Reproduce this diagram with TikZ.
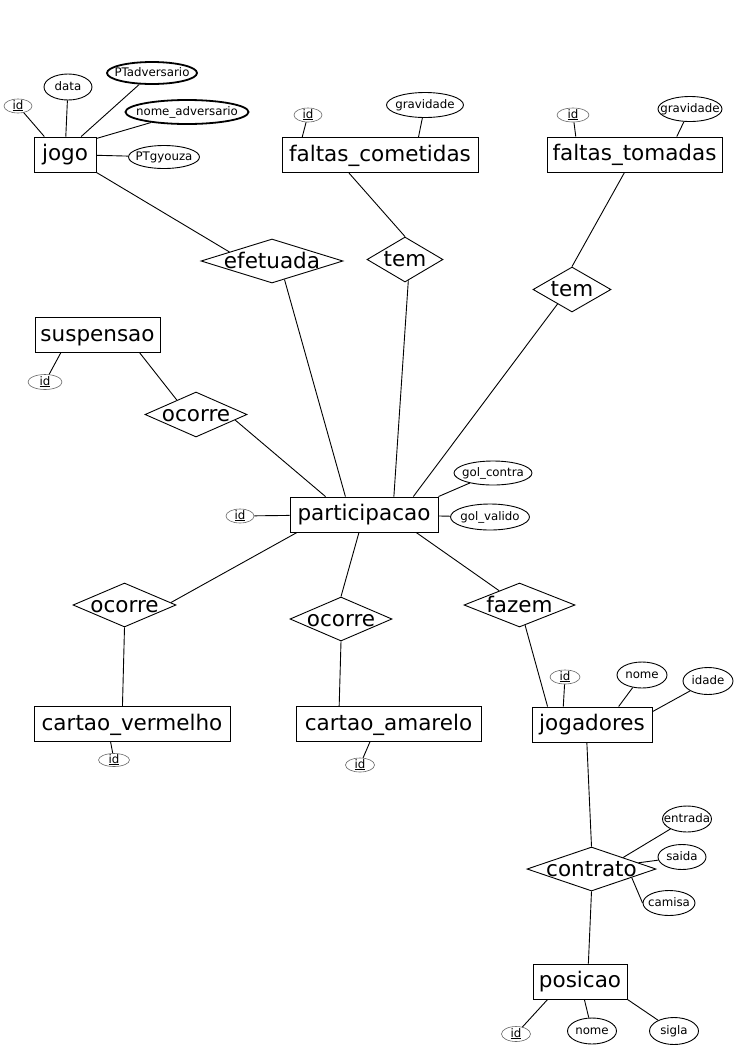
\documentclass[tikz,border=0pt]{standalone}
\usepackage{fontspec}
\setmainfont{DejaVu Sans}
\usetikzlibrary{shapes.geometric}
\begin{document}
\begin{tikzpicture}[x=1pt,y=-1pt]

    \tikzset{
      entity/.style={
        draw,
        line width=0.9pt,
        inner sep=0pt,
        minimum height=35pt,
        text height=15.7pt,
        text depth=3.7pt,
        font=\fontsize{21.5}{24}\selectfont,
      },
      bigtext/.style={
        inner sep=0pt,
        text height=17pt,
        text depth=3pt,
        font=\fontsize{21.5}{24}\selectfont,
      },
      relation/.style={
        draw,
        diamond,
        line width=0.9pt,
        inner sep=0pt,
        minimum height=44pt,
        label={[bigtext]center:#1},
      },
      smalltext/.style={
        inner sep=0pt,
        text height=8.5pt,
        text depth=2.5pt,
        font=\fontsize{11.8}{14}\selectfont,
      },
      attr/.style={
        draw,
        ellipse,
        line width=0.9pt,
        inner sep=0pt,
        minimum height=25pt,
        label={[smalltext]center:#1},
      },
      idattr/.style={
        attr=\underline{id},
        line width=0.6pt,
        draw=black!60,
        minimum height=14pt,
      },
      conn/.style={line width=0.9pt},
    }
    \useasboundingbox (0,0) rectangle (745,1053);
    \fill[white] (0,0) rectangle (745,1053);

    % entidades
    \node[entity, minimum width=62pt] (jogo) at (65,154.5) {jogo};
    \node[entity, minimum width=196pt] (fcom) at (380,155) {faltas\_cometidas};
    \node[entity, minimum width=175pt] (ftom) at (634.5,154.5) {faltas\_tomadas};
    \node[entity, minimum width=125pt] (suspensao) at (97.5,335) {suspensao};
    \node[entity, minimum width=148pt] (participacao) at (364,514.5) {participacao};
    \node[entity, minimum width=196pt] (cvermelho) at (132,724) {cartao\_vermelho};
    \node[entity, minimum width=185pt] (camarelo) at (388.5,724) {cartao\_amarelo};
    \node[entity, minimum width=120pt] (jogadores) at (592,724.5) {jogadores};
    \node[entity, minimum width=94pt] (posicao) at (580,981.5) {posicao};

    % relacionamentos
    \node[relation=efetuada, minimum width=142pt] (efetuada) at (272,261) {};
    \node[relation=tem, minimum width=76pt, minimum height=45pt] (temfc) at (405,259.5) {};
    \node[relation=tem, minimum width=78pt, minimum height=45pt] (temft) at (572,289.5) {};
    \node[relation=ocorre, minimum width=102pt, minimum height=45pt] (ocorresusp) at (196,414.5) {};
    \node[relation=ocorre, minimum width=103pt] (ocorrevm) at (124.5,605) {};
    \node[relation=ocorre, minimum width=102pt] (ocorream) at (341,619) {};
    \node[relation=fazem, minimum width=111pt] (fazem) at (519.5,605) {};
    \node[relation=contrato, minimum width=129pt] (contrato) at (591.5,869) {};

    % atributos
    \node[idattr, minimum width=28pt] (jogoid) at (18,106) {};
    \node[attr=data, minimum width=48pt, minimum height=26pt] (jogodata) at (68,87) {};
    \node[attr=PTadversario, line width=1.8pt, minimum width=90pt, minimum height=22pt] (ptadv) at (152,73) {};
    \node[attr=nome\_adversario, line width=1.8pt, minimum width=123pt, minimum height=24pt] (nomeadv) at (187,112) {};
    \node[attr=PTgyouza, minimum width=71pt, minimum height=23pt] (ptgyouza) at (164,157) {};
    \node[idattr, minimum width=28pt] (fcid) at (308,115) {};
    \node[attr=gravidade, minimum width=77pt] (fcgrav) at (425,105) {};
    \node[idattr, minimum width=32pt] (ftid) at (573,115) {};
    \node[attr=gravidade, minimum width=64pt] (ftgrav) at (690,109) {};
    \node[idattr, minimum width=34pt, minimum height=15pt] (suspid) at (45,382) {};
    \node[attr=gol\_contra, minimum width=78pt, minimum height=24pt] (golcontra) at (493,473) {};
    \node[attr=gol\_valido, minimum width=79pt, minimum height=26pt] (golvalido) at (490,517) {};
    \node[idattr, minimum width=28pt] (partid) at (240,516) {};
    \node[idattr, minimum width=31pt, minimum height=13pt] (vmid) at (114,760) {};
    \node[idattr, minimum width=29pt] (amid) at (360,765) {};
    \node[idattr, minimum width=30pt] (jogid) at (565,677) {};
    \node[attr=nome, minimum width=50pt, minimum height=26pt] (jognome) at (642,675) {};
    \node[attr=idade, minimum width=50pt, minimum height=27pt] (jogidade) at (708,681) {};
    \node[attr=entrada, minimum width=49pt, minimum height=26pt] (entrada) at (687,819) {};
    \node[attr=saida, minimum width=48pt] (saida) at (682,857) {};
    \node[attr=camisa, minimum width=52pt] (camisa) at (669,903) {};
    \node[idattr, minimum width=29pt, minimum height=15pt] (posid) at (516,1034) {};
    \node[attr=nome, minimum width=49pt, minimum height=26pt] (posnome) at (592,1031) {};
    \node[attr=sigla, minimum width=49pt, minimum height=27pt] (possigla) at (674,1031) {};

    % ligacoes
    \draw[conn] (jogoid) -- (jogo.139);
    \draw[conn] (jogodata) -- (jogo);
    \draw[conn] (ptadv) -- (jogo.48);
    \draw[conn] (nomeadv) -- (jogo.27);
    \draw[conn] (ptgyouza) -- (jogo);
    \draw[conn] (jogo.south east) -- (efetuada.168);
    \draw[conn] (fcid) -- (fcom.167);
    \draw[conn] (fcgrav) -- (fcom.25);
    \draw[conn] (fcom.-150) -- (temfc.north);
    \draw[conn] (ftid) -- (ftom.163);
    \draw[conn] (ftgrav) -- (ftom.23);
    \draw[conn] (ftom) -- (temft.north);
    \draw[conn] (suspid) -- (suspensao.-154);
    \draw[conn] (suspensao.-23) -- (ocorresusp.143);
    \draw[conn] (efetuada.-56) -- (participacao.136);
    \draw[conn] (temfc.-81) -- (participacao.31);
    \draw[conn] (temft.-135) -- (participacao.20);
    \draw[conn] (ocorresusp.-8) -- (participacao.155);
    \draw[conn] (partid) -- (participacao);
    \draw[conn] (golcontra) -- (participacao.north east);
    \draw[conn] (golvalido) -- (participacao);
    \draw[conn] (participacao.-165) -- (ocorrevm.3);
    \draw[conn] (participacao) -- (ocorream.north);
    \draw[conn] (participacao.-19) -- (fazem);
    \draw[conn] (ocorrevm.south) -- (cvermelho.118);
    \draw[conn] (ocorream.south) -- (camarelo.160);
    \draw[conn] (vmid) -- (cvermelho.-140);
    \draw[conn] (amid) -- (camarelo.-136);
    \draw[conn] (fazem) -- (jogadores.158);
    \draw[conn] (jogid) -- (jogadores.148);
    \draw[conn] (jognome) -- (jogadores.34);
    \draw[conn] (jogidade) -- (jogadores.12);
    \draw[conn] (jogadores.-106) -- (contrato.north);
    \draw[conn] (entrada) -- (contrato.20);
    \draw[conn] (saida) -- (contrato);
    \draw[conn] (camisa.west) -- (contrato.-12);
    \draw[conn] (contrato.south) -- (posicao.65);
    \draw[conn] (posicao.-151) -- (posid);
    \draw[conn] (posicao) -- (posnome);
    \draw[conn] (posicao.south east) -- (possigla);

\end{tikzpicture}
\end{document}
